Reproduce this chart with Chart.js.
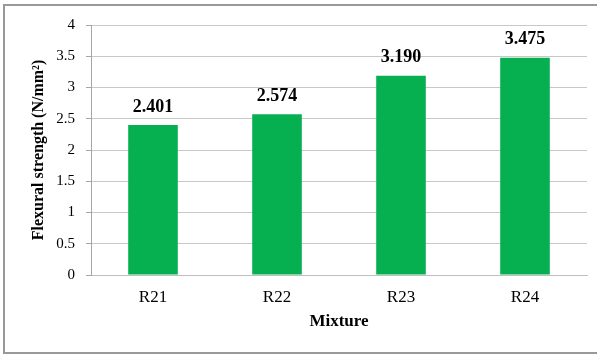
<!DOCTYPE html>
<html>
<head>
<meta charset="utf-8">
<script src="https://cdn.jsdelivr.net/npm/chart.js@4"></script>
<style>
  html, body { margin: 0; padding: 0; background: #fff; overflow: hidden; }
  #wrap { position: relative; width: 597px; height: 354px; overflow: hidden; }
  #frame { position: absolute; left: 3px; top: 4px; width: 610px; height: 346px; border: 2px solid #999; box-sizing: content-box; pointer-events: none; }
  canvas { position: absolute; left: 0; top: 0; }
</style>
</head>
<body>
<div id="wrap">
  <canvas id="c" width="597" height="354"></canvas>
  <div id="frame"></div>
</div>
<script>
const categories = ['R21', 'R22', 'R23', 'R24'];
const flexuralStrength = [2.401, 2.574, 3.190, 3.475];
const yTicks = [0, 0.5, 1, 1.5, 2, 2.5, 3, 3.5, 4];
const yTitle = 'Flexural strength (N/mm\u00B2)';
const xTitle = 'Mixture';

const FONT = "'Liberation Serif', 'Times New Roman', serif";

const valueLabels = {
  id: 'valueLabels',
  afterDatasetsDraw(chart) {
    const ctx = chart.ctx;
    const meta = chart.getDatasetMeta(0);
    ctx.save();
    ctx.font = 'bold 18px ' + FONT;
    ctx.fillStyle = '#000';
    ctx.textAlign = 'center';
    ctx.textBaseline = 'middle';
    meta.data.forEach((bar, i) => {
      ctx.fillText(flexuralStrength[i].toFixed(3), bar.x, bar.y - 18);
    });
    ctx.restore();
  }
};

new Chart(document.getElementById('c'), {
  type: 'bar',
  data: {
    labels: categories,
    datasets: [{
      data: flexuralStrength,
      backgroundColor: '#06AF50',
      borderWidth: 0,
      categoryPercentage: 1,
      barPercentage: 0.4
    }]
  },
  options: {
    responsive: false,
    animation: false,
    devicePixelRatio: 1,
    layout: { padding: { left: 0, right: 10, top: 25, bottom: 14 } },
    plugins: { legend: { display: false }, tooltip: { enabled: false } },
    scales: {
      x: {
        grid: { display: false, drawTicks: false },
        border: { display: true, color: '#bfbfbf', width: 1 },
        ticks: { color: '#000', font: { family: FONT, size: 17 }, padding: 12 },
        title: { display: true, text: xTitle, color: '#000', font: { family: FONT, size: 17, weight: 'bold' }, padding: { top: 0, bottom: 8 } },
        afterFit(scale) { scale.height = 65; }
      },
      y: {
        min: 0, max: 4,
        afterBuildTicks(scale) { scale.ticks = yTicks.map(v => ({ value: v })); },
        grid: { color: '#c8c8c8', tickColor: '#a6a6a6', drawTicks: true, tickLength: 5 },
        border: { display: true, color: '#a6a6a6', width: 1 },
        ticks: { color: '#000', font: { family: FONT, size: 15 }, padding: 11, callback: (v) => String(v) },
        title: { display: true, text: yTitle, color: '#000', font: { family: FONT, size: 16, weight: 'bold' }, padding: { top: 29, bottom: 0 } },
        afterFit(scale) { scale.width = 91; }
      }
    }
  },
  plugins: [valueLabels]
});
</script>
</body>
</html>
